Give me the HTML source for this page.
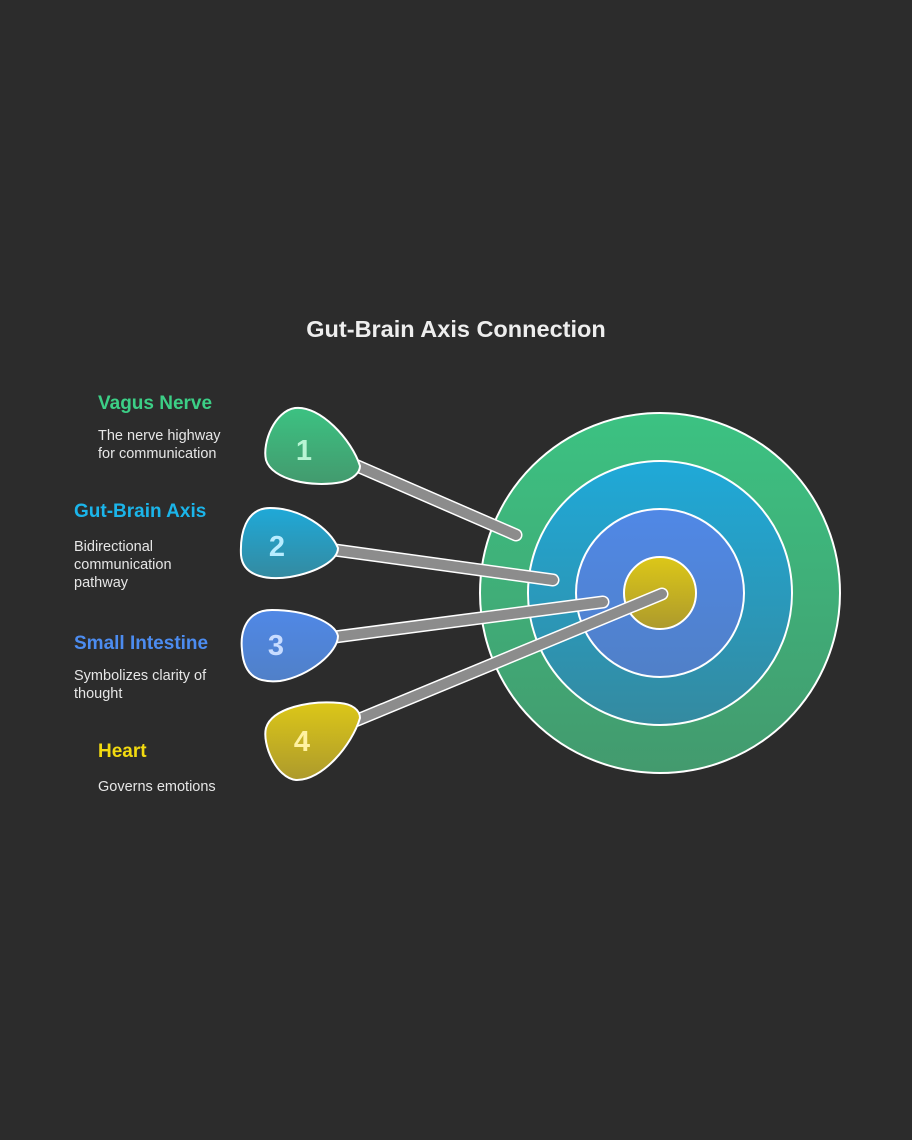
<!DOCTYPE html>
<html><head><style>
html,body{margin:0;padding:0;background:#2c2c2c;}
svg{display:block;}
text{font-family:"Liberation Sans",sans-serif;}
</style></head><body>
<svg width="912" height="1140" viewBox="0 0 912 1140" xmlns="http://www.w3.org/2000/svg">
<defs>
<linearGradient id="g1" x1="0" y1="0" x2="0" y2="1"><stop offset="0" stop-color="#3cc282"/><stop offset="1" stop-color="#439a6e"/></linearGradient>
<linearGradient id="g2" x1="0" y1="0" x2="0" y2="1"><stop offset="0" stop-color="#1fa9d8"/><stop offset="1" stop-color="#348aa0"/></linearGradient>
<linearGradient id="g3" x1="0" y1="0" x2="0" y2="1"><stop offset="0" stop-color="#5088e6"/><stop offset="1" stop-color="#5080c8"/></linearGradient>
<linearGradient id="g4" x1="0" y1="0" x2="0" y2="1"><stop offset="0" stop-color="#dcc718"/><stop offset="1" stop-color="#ad9a2c"/></linearGradient>
</defs>
<rect width="912" height="1140" fill="#2c2c2c"/>
<text x="456" y="337" text-anchor="middle" font-size="23.5" font-weight="bold" fill="#eeeeee">Gut-Brain Axis Connection</text>

<circle cx="660" cy="593" r="180" fill="url(#g1)" stroke="#fff" stroke-width="2"/>
<circle cx="660" cy="593" r="132" fill="url(#g2)" stroke="#fff" stroke-width="2"/>
<circle cx="660" cy="593" r="84" fill="url(#g3)" stroke="#fff" stroke-width="2"/>
<circle cx="660" cy="593" r="36" fill="url(#g4)" stroke="#fff" stroke-width="2"/>

<g stroke-linecap="round">
<line x1="355" y1="465" x2="516" y2="535" stroke="#fff" stroke-width="13"/>
<line x1="355" y1="465" x2="516" y2="535" stroke="#8c8c8c" stroke-width="10"/>
<line x1="335" y1="550" x2="553" y2="580" stroke="#fff" stroke-width="13"/>
<line x1="335" y1="550" x2="553" y2="580" stroke="#8c8c8c" stroke-width="10"/>
<line x1="335" y1="637" x2="603" y2="602" stroke="#fff" stroke-width="13"/>
<line x1="335" y1="637" x2="603" y2="602" stroke="#8c8c8c" stroke-width="10"/>
<line x1="355" y1="721" x2="662" y2="594" stroke="#fff" stroke-width="13"/>
<line x1="355" y1="721" x2="662" y2="594" stroke="#8c8c8c" stroke-width="10"/>
</g>

<path d="M360,466 C352,440 320,405 295,408 C275,411 262,442 266,460 C272,480 312,488 342,482 C354,479 360,472 360,466 Z" fill="url(#g1)" stroke="#fff" stroke-width="2"/>
<path d="M338,548 C330,528 300,508 270,508 C245,508 240,535 241,555 C243,578 270,580 290,577 C318,572 338,560 338,548 Z" fill="url(#g2)" stroke="#fff" stroke-width="2"/>
<path d="M338,636 C335,622 305,610 272,610 C246,610 240,632 242,650 C244,678 260,683 280,681 C310,676 338,652 338,636 Z" fill="url(#g3)" stroke="#fff" stroke-width="2"/>
<path d="M360,718 C360,710 352,704 340,703 C310,700 272,708 266,728 C262,744 276,778 296,780 C322,781 352,745 360,718 Z" fill="url(#g4)" stroke="#fff" stroke-width="2"/>

<g font-size="29" font-weight="bold" text-anchor="middle">
<text x="304" y="460" fill="#b8f5d4">1</text>
<text x="277" y="556" fill="#b8ecff">2</text>
<text x="276" y="655" fill="#c8dcff">3</text>
<text x="302" y="751" fill="#fff2a0">4</text>
</g>

<g font-size="19" font-weight="bold">
<text x="98" y="409" fill="#3ccf86">Vagus Nerve</text>
<text x="74" y="517" fill="#1bb5ea">Gut-Brain Axis</text>
<text x="74" y="649" fill="#4c8cf0">Small Intestine</text>
<text x="98" y="757" fill="#f2da10">Heart</text>
</g>
<g font-size="14.5" fill="#e6e6e6">
<text x="98" y="440">The nerve highway</text>
<text x="98" y="458">for communication</text>
<text x="74" y="551">Bidirectional</text>
<text x="74" y="569">communication</text>
<text x="74" y="587">pathway</text>
<text x="74" y="680">Symbolizes clarity of</text>
<text x="74" y="698">thought</text>
<text x="98" y="791">Governs emotions</text>
</g>
</svg>
</body></html>
